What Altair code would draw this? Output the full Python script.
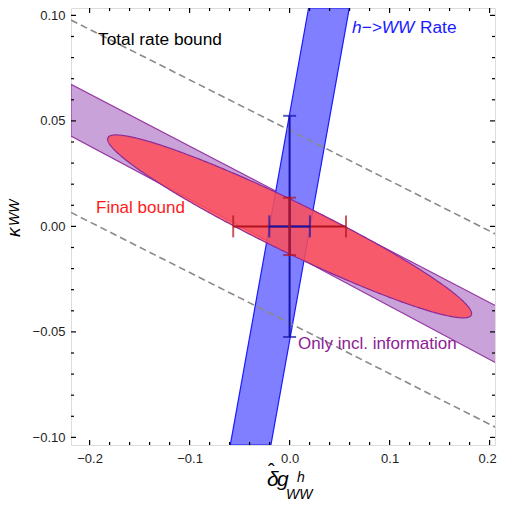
import altair as alt
import numpy as np
import pandas as pd

FONT = "Liberation Sans"

# ---- axis ranges / ticks ----
X_DOMAIN = [-0.2186, 0.2054]
Y_DOMAIN = [-0.1036, 0.1035]
X_MAJOR = [-0.2, -0.1, 0.0, 0.1, 0.2]
X_MINOR = [-0.18, -0.16, -0.14, -0.12, -0.08, -0.06, -0.04, -0.02,
           0.02, 0.04, 0.06, 0.08, 0.12, 0.14, 0.16, 0.18]
Y_MAJOR = [-0.10, -0.05, 0.0, 0.05, 0.10]
Y_MINOR = [-0.09, -0.08, -0.07, -0.06, -0.04, -0.03, -0.02, -0.01,
           0.01, 0.02, 0.03, 0.04, 0.06, 0.07, 0.08, 0.09]

# ---- "Total rate bound" dashed lines: y at left / right frame ----
DASH_X = [-0.2186, 0.2147]
DASH_UPPER = [0.0978, -0.0057]
DASH_LOWER = [0.0066, -0.0973]

# ---- "Only incl. information" band: y of edges at left / right frame ----
BAND_X = [-0.2186, 0.2147]
BAND_UPPER = [0.0673, -0.0397]
BAND_LOWER = [0.0428, -0.0668]

# ---- h->WW rate band: x of edges at bottom / top frame ----
BLUE_Y = [-0.1036, 0.1035]
BLUE_LEFT = [-0.0593, 0.0190]
BLUE_RIGHT = [-0.0187, 0.0597]

# ---- Final bound ellipse (centred at origin) ----
ELL_XMAX = 0.182     # largest |x| on the ellipse
ELL_XCROSS = 0.0550  # half-width along y = 0
ELL_YCROSS = 0.0131  # half-height along x = 0

# ---- error bars ----
RED_XERR = [-0.0564, 0.0564]
RED_YERR = [-0.0136, 0.0136]
BLUE_XERR = [-0.0203, 0.0203]
BLUE_YERR = [-0.0524, 0.0524]

W, H = 424, 437

xs = alt.Scale(domain=X_DOMAIN, nice=False, zero=False)
ys = alt.Scale(domain=Y_DOMAIN, nice=False, zero=False)
xaxis = alt.Axis(values=X_MAJOR, format=".1f", title=None, ticks=False, domain=False,
                 grid=False, labelPadding=7, labelFontSize=13, labelFont=FONT,
                 labelColor="#1e1e1e",
                 labelOffset=alt.condition("datum.value > 0.15", alt.value(-2.5), alt.value(0)))
yaxis = alt.Axis(values=Y_MAJOR, format=".2f", title=None, ticks=False, domain=False,
                 grid=False, labelPadding=6, labelFontSize=13, labelFont=FONT,
                 labelColor="#1e1e1e")
X = lambda f="x": alt.X(f"{f}:Q", scale=xs, axis=xaxis)
Y = lambda f="y": alt.Y(f"{f}:Q", scale=ys, axis=yaxis)

# purple band
band_df = pd.DataFrame({"x": BAND_X, "y": BAND_UPPER, "y2": BAND_LOWER})
band = alt.Chart(band_df).mark_area(
    fill="#c9a2d9", stroke="#9636a3", strokeWidth=1.2, clip=True
).encode(x=X(), y=Y(), y2="y2:Q")

# blue band
blue_df = pd.DataFrame({"y": BLUE_Y, "x": BLUE_LEFT, "x2": BLUE_RIGHT})
blue = alt.Chart(blue_df).mark_area(
    orient="horizontal", fill="#7f7fff", stroke="#1a1aff", strokeWidth=1.2, clip=True
).encode(y=Y(), x=X(), x2="x2:Q")

# ellipse
sxx = ELL_XMAX ** 2
det = ELL_YCROSS ** 2 * sxx
syy = det / ELL_XCROSS ** 2
sxy = -np.sqrt(sxx * syy - det)
t = np.linspace(0, np.pi, 241)
ex = np.sqrt(sxx) * np.cos(t)
root = np.sqrt(np.clip(det * (sxx - ex ** 2), 0, None))
ell_df = pd.DataFrame({"x": ex, "y": (sxy * ex + root) / sxx, "y2": (sxy * ex - root) / sxx}).sort_values("x")
ellipse = alt.Chart(ell_df).mark_area(
    fill="#ff4d57", fillOpacity=0.85, stroke="#8e2a98", strokeWidth=1.2, clip=True
).encode(x=X(), y=Y(), y2="y2:Q")

# dashed lines
dash_df = pd.DataFrame({
    "x": DASH_X + DASH_X,
    "y": DASH_UPPER + DASH_LOWER,
    "line": ["u", "u", "l", "l"],
})
dashes = alt.Chart(dash_df).mark_line(
    color="#8a8a8a", strokeWidth=1.6, strokeDash=[7, 4], clip=True
).encode(x=X(), y=Y(), detail="line:N")

RED = "#b3121c"
BLU = "#1414a8"


def hbar(err, color):
    df = pd.DataFrame({"x": [err[0]], "x2": [err[1]], "y": [0.0]})
    line = alt.Chart(df).mark_rule(color=color, strokeWidth=2).encode(x=X(), x2="x2:Q", y=Y())
    caps = alt.Chart(pd.DataFrame({"x": err, "y": [0.0, 0.0]})).mark_tick(
        orient="vertical", color=color, size=22, thickness=2
    ).encode(x=X(), y=Y())
    return [line, caps]


def vbar(err, color):
    df = pd.DataFrame({"y": [err[0]], "y2": [err[1]], "x": [0.0]})
    line = alt.Chart(df).mark_rule(color=color, strokeWidth=2).encode(y=Y(), y2="y2:Q", x=X())
    caps = alt.Chart(pd.DataFrame({"y": err, "x": [0.0, 0.0]})).mark_tick(
        orient="horizontal", color=color, size=13, thickness=2
    ).encode(x=X(), y=Y())
    return [line, caps]


# frame ticks (inside)
def xticks(vals, length):
    df = pd.DataFrame({"x": vals})
    b = alt.Chart(df).mark_rule(color="black", strokeWidth=1.2).encode(
        x=X(), y=alt.value(H), y2=alt.value(H - length))
    tp = alt.Chart(df).mark_rule(color="black", strokeWidth=1.2).encode(
        x=X(), y=alt.value(0), y2=alt.value(length))
    return [b, tp]


def yticks(vals, length):
    df = pd.DataFrame({"y": vals})
    l = alt.Chart(df).mark_rule(color="black", strokeWidth=1.2).encode(
        y=Y(), x=alt.value(0), x2=alt.value(length))
    r = alt.Chart(df).mark_rule(color="black", strokeWidth=1.2).encode(
        y=Y(), x=alt.value(W), x2=alt.value(W - length))
    return [l, r]


def label(text, x, y, size, color, style="normal", angle=0):
    return alt.Chart(pd.DataFrame({"t": [text]})).mark_text(
        align="left", baseline="alphabetic", font=FONT, fontSize=size,
        fontStyle=style, color=color, angle=angle
    ).encode(x=alt.value(x), y=alt.value(y), text="t:N")


texts = [
    label("Total rate bound", 27, 37, 17.3, "black"),
    label("h\u2212>WW", 281, 25, 17.3, "#1a1aff", "italic"),
    label("Rate", 349, 25, 17.3, "#1a1aff"),
    label("Final bound", 25, 205, 17, "#ff1a1a"),
    label("Only incl. information", 227, 341, 17, "#8e2196"),
    # x-axis title
    label("\u03b4", 196, 478, 21, "black", "italic"),
    label("\u02c6", 197, 470, 20, "black"),
    label("g", 206, 478, 21, "black", "italic"),
    label("h", 226, 474, 14, "black", "italic"),
    label("WW", 215, 491, 14, "black", "italic"),
    # y-axis title
    label("\u03ba", -51, 229, 19, "black", "italic", 270),
    label("WW", -52, 218, 14, "black", "italic", 270),
]

layers = [band, blue, ellipse, dashes]
layers += hbar(RED_XERR, RED)
layers += hbar(BLUE_XERR, BLU)
layers += vbar(BLUE_YERR, BLU)
layers += vbar(RED_YERR, RED)
layers += xticks(X_MAJOR, 5) + xticks(X_MINOR, 3) + yticks(Y_MAJOR, 5) + yticks(Y_MINOR, 3)
layers += texts

chart = alt.layer(*layers).properties(
    width=W, height=H,
    autosize=alt.AutoSizeParams(type="none"),
    padding={"left": 63, "top": 0, "right": 2, "bottom": 56},
).configure_view(stroke="black", strokeWidth=1.5).configure(background="white")

chart.save("out.html", embed_options={"renderer": "svg", "actions": False})
